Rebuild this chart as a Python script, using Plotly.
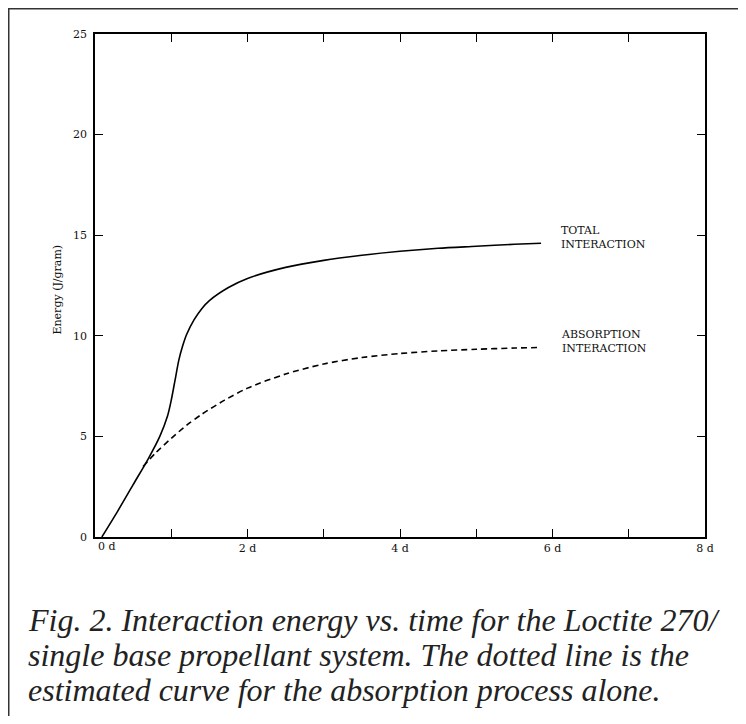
import plotly.graph_objects as go

# Data (time in days, energy in J/gram)
total_days = [0.09, 0.3, 0.5, 0.7, 0.85, 0.95, 1.0, 1.05, 1.1, 1.15, 1.2, 1.3, 1.4, 1.5, 1.75, 2.0, 2.5, 3.0, 3.5, 4.0, 4.5, 5.0, 5.5, 5.85]
total_energy = [0.0, 1.3, 2.6, 3.9, 5.0, 6.0, 6.8, 7.8, 8.8, 9.5, 10.05, 10.8, 11.35, 11.75, 12.4, 12.85, 13.4, 13.75, 14.0, 14.2, 14.35, 14.45, 14.55, 14.6]

abs_days = [0.63, 0.8, 1.0, 1.2, 1.4, 1.7, 2.0, 2.5, 3.0, 3.5, 4.0, 4.5, 5.0, 5.5, 5.85]
abs_energy = [3.5, 4.2, 4.9, 5.55, 6.1, 6.8, 7.4, 8.1, 8.6, 8.92, 9.12, 9.25, 9.33, 9.39, 9.42]

x_tick_vals = [0, 1, 2, 3, 4, 5, 6, 7, 8]
x_tick_text = ["0 d", "", "2 d", "", "4 d", "", "6 d", "", "8 d"]
y_tick_vals = [0, 5, 10, 15, 20, 25]
y_tick_text = ["0", "5", "10", "15", "20", "25"]

caption_lines = [
    "Fig. 2. Interaction energy vs. time for the Loctite 270/",
    "single base propellant system. The dotted line is the",
    "estimated curve for the absorption process alone.",
]

# page body has an 8px margin, so figure coords = window coords - 8
OFF = 8
W, H = 738, 708
L, T = 95 - OFF, 34 - OFF
R = W - (705 - OFF)
B = H - (537 - OFF)
pw, ph = W - L - R, H - T - B

def px_x(p):
    return (p - OFF - L) / pw

def px_y(p):
    return (H - B - (p - OFF)) / ph

fig = go.Figure()
fig.add_trace(go.Scatter(x=total_days, y=total_energy, mode="lines",
                         line=dict(color="black", width=1.6, shape="spline", smoothing=0.8),
                         showlegend=False, hoverinfo="skip"))
fig.add_trace(go.Scatter(x=abs_days, y=abs_energy, mode="lines",
                         line=dict(color="black", width=1.6, dash="6px,4px", shape="spline", smoothing=0.8),
                         showlegend=False, hoverinfo="skip"))

serif = "DejaVu Serif"
axis_common = dict(showline=True, linecolor="black", linewidth=1.5, ticks="inside",
                   ticklen=8, tickwidth=1.3, tickcolor="black", mirror="ticks",
                   showgrid=False, zeroline=False,
                   tickfont=dict(family=serif, size=11, color="#111"))

# the first x label sits slightly right of its tick in the reference; drawn as an annotation
x_labels_axis = [("" if v == 0 else t) for v, t in zip(x_tick_vals, x_tick_text)]

fig.update_layout(
    width=W, height=H,
    margin=dict(l=L, r=R, t=T, b=B, pad=0),
    paper_bgcolor="white", plot_bgcolor="white",
    xaxis=dict(range=[0, 8], tickvals=x_tick_vals, ticktext=x_labels_axis, **axis_common),
    yaxis=dict(range=[0, 25], tickvals=y_tick_vals, ticktext=y_tick_text,
               ticklabelstandoff=4, **axis_common),
)

annotations = [
    dict(text=x_tick_text[0], x=px_x(96), y=px_y(546), xref="paper", yref="paper",
         xanchor="left", yanchor="middle", showarrow=False,
         font=dict(family=serif, size=11, color="#111")),
    dict(text="Energy (J/gram)", x=px_x(48), y=px_y(290), xref="paper", yref="paper",
         textangle=-90, showarrow=False, font=dict(family=serif, size=11, color="#111")),
    dict(text="TOTAL<br>INTERACTION", x=px_x(559), y=px_y(237), xref="paper", yref="paper",
         xanchor="left", yanchor="middle", align="left", showarrow=False,
         font=dict(family=serif, size=11, color="#111")),
    dict(text="ABSORPTION<br>INTERACTION", x=px_x(559), y=px_y(341), xref="paper", yref="paper",
         xanchor="left", yanchor="middle", align="left", showarrow=False,
         font=dict(family=serif, size=11, color="#111")),
]
caption_y = [620, 655, 690]
for line, cy in zip(caption_lines, caption_y):
    annotations.append(dict(text="<i>" + line + "</i>", x=px_x(26), y=px_y(cy), xref="paper", yref="paper",
                            xanchor="left", yanchor="middle", showarrow=False,
                            font=dict(family="Liberation Serif", size=32, color="#222")))
fig.update_layout(annotations=annotations)

fig.add_shape(type="rect", xref="paper", yref="paper",
              x0=px_x(8.75), x1=px_x(744), y0=px_y(740), y1=px_y(8.75),
              line=dict(color="#333", width=1.5), fillcolor="rgba(0,0,0,0)", layer="below")

fig.write_html("out.html")
